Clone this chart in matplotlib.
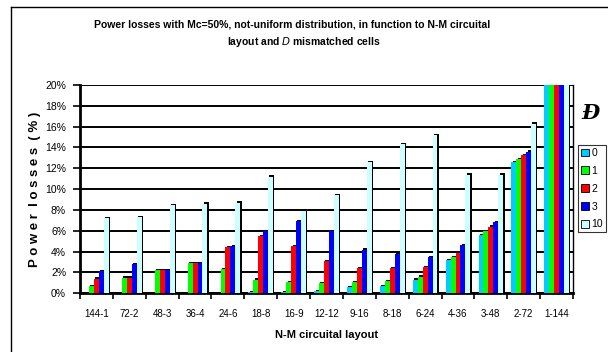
import numpy as np
import matplotlib
matplotlib.use("Agg")
import matplotlib.pyplot as plt
from matplotlib.lines import Line2D
from matplotlib.ticker import FuncFormatter, FixedLocator

plt.rcParams['font.family'] = ['Liberation Sans', 'DejaVu Sans']

categories = ['144-1', '72-2', '48-3', '36-4', '24-6', '18-8', '16-9', '12-12',
              '9-16', '8-18', '6-24', '4-36', '3-48', '2-72', '1-144']
series_names = ['0', '1', '2', '3', '10']
d0 = [0, 0, 0, 0, 0, 0.1, 0.1, 0.2, 0.6, 0.7, 1.3, 3.2, 5.6, 12.6, 25]
d1 = [0.7, 1.5, 2.2, 2.9, 2.3, 1.3, 1.1, 1.0, 1.1, 1.2, 1.6, 3.5, 6.0, 12.9, 25]
d2 = [1.4, 1.5, 2.2, 2.9, 4.4, 5.5, 4.5, 3.1, 2.4, 2.4, 2.5, 3.9, 6.4, 13.3, 25]
d3 = [2.1, 2.8, 2.2, 2.9, 4.5, 6.0, 6.9, 6.0, 4.2, 3.8, 3.5, 4.6, 6.8, 13.6, 25]
d10 = [7.2, 7.3, 8.5, 8.6, 8.7, 11.2, 7.9, 9.4, 12.6, 14.3, 15.2, 11.4, 11.4, 16.3, 25]
colors = ['#00CCFF', '#00FF00', '#FF0000', '#0000FF', '#CCFFFF']

fig = plt.figure(figsize=(6.08, 3.52), dpi=100)
ax = fig.add_axes([0.1316, 0.1668, 0.8109, 0.5917])

x = np.arange(len(categories))
width = 0.15
handles = []
for k, (vals, c) in enumerate(zip([d0, d1, d2, d3, d10], colors)):
    vals = np.array(vals, dtype=float)
    pos = x + (k - 2) * width
    # black shadow on top/right, like the old Excel look
    shadow = np.where(vals > 0, vals + 0.12, 0)
    ax.bar(pos + 0.04, shadow, width, color='black', zorder=2 + 2 * k)
    b = ax.bar(pos, vals, width, color=c, zorder=3 + 2 * k, label=series_names[k])
    handles.append(b)

ax.set_xlim(-0.5, len(categories) - 0.5)
ax.set_ylim(0, 20)
ax.set_yticks(np.arange(0, 21, 2))
ax.yaxis.set_major_formatter(FuncFormatter(lambda v, p: '%d%%' % v))
ax.grid(axis='y', color='black', linewidth=1.4, zorder=0)
ax.set_axisbelow(True)

ax.set_xticks(x)
ax.set_xticklabels(categories, fontsize=7)
ax.xaxis.set_minor_locator(FixedLocator(np.arange(-0.5, len(categories), 1)))
ax.tick_params(axis='x', which='major', length=0, pad=11)
ax.tick_params(axis='x', which='minor', length=4, width=1.2, direction='out')
ax.tick_params(axis='y', length=5, width=1.2, labelsize=7.5, pad=5)

ax.spines['top'].set_visible(False)
ax.spines['left'].set_linewidth(2)
ax.spines['bottom'].set_linewidth(2)
ax.spines['right'].set_linewidth(1)

ax.set_ylabel('P o w e r  l o s s e s  ( % )', fontsize=9.5, fontweight='bold', labelpad=3)
ax.set_xlabel('N-M circuital layout', fontsize=8, fontweight='bold', labelpad=8)

fig.text(0.48, 0.93, 'Power losses with Mc=50%, not-uniform distribution, in function to N-M circuital',
         fontsize=7.5, fontweight='bold', ha='center', va='center')
fig.text(0.5, 0.88, 'layout and $\\mathbf{\\mathit{D}}$ mismatched cells',
         fontsize=7.5, fontweight='bold', ha='center', va='center')

fig.text(590 / 608, 1 - 113 / 352, '\u0110', fontsize=15, fontweight='bold',
         style='italic', family='DejaVu Serif', ha='center', va='center')

leg = fig.legend(handles=handles, labels=series_names, loc='upper left',
                 bbox_to_anchor=(578 / 608, 1 - 145 / 352), fontsize=7.5,
                 frameon=True, fancybox=False, edgecolor='black',
                 handlelength=0.8, handleheight=0.8, handletextpad=0.2,
                 labelspacing=0.75, borderpad=0.3, borderaxespad=0)
leg.get_frame().set_linewidth(0.8)
for h in leg.legend_handles:
    h.set_edgecolor('black')
    h.set_linewidth(0.6)

# outer chart frame (left and top edges visible)
fig.add_artist(Line2D([11 / 608, 11 / 608], [0, 1 - 7 / 352], color='black', linewidth=1))
fig.add_artist(Line2D([11 / 608, 1], [1 - 7 / 352, 1 - 7 / 352], color='black', linewidth=1))

fig.savefig('out.png', dpi=100)
